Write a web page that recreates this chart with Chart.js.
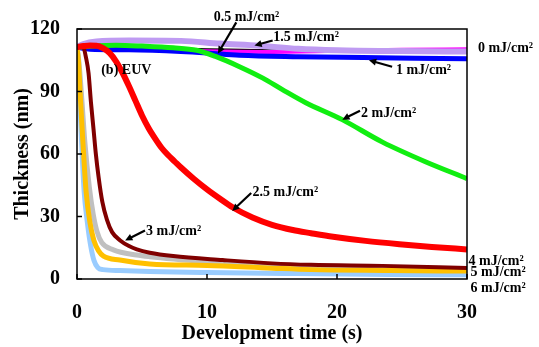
<!DOCTYPE html>
<html>
<head>
<meta charset="utf-8">
<script src="https://cdn.jsdelivr.net/npm/chart.js@4.4.0/dist/chart.umd.min.js"></script>
<style>
    body { margin: 0; background: #fff; }
</style>
</head>
<body>
<canvas id="chart1" width="539" height="347"></canvas>
<script>
// development time (s) and film thickness (nm) for each EUV dose
const time_0 = [0, 1, 5, 10, 15, 20, 25, 30];
const thick_0 = [111.2, 110.5, 110, 109.3, 109, 109.5, 110, 110.3];

const time_05 = [0, 1, 5, 10, 15, 20, 25, 30];
const thick_05 = [111.2, 111, 110.8, 110.3, 109.8, 109.6, 109.8, 110];

const time_1 = [0, 1, 4, 8, 10, 12.5, 17, 22, 26, 30];
const thick_1 = [111.2, 110.3, 110, 109.2, 108.5, 107.4, 106.7, 106.3, 106, 105.7];

const time_15 = [0, 0.5, 1.5, 4, 8, 11, 14, 17, 20, 25, 30];
const thick_15 = [111.3, 112.8, 114, 114.5, 114.3, 113, 112, 110.5, 109.8, 109.4, 109.2];

const time_2 = [0, 0.5, 1.5, 3, 5, 7.4, 9.2, 10.7, 12.5, 14.3, 15.8, 17.6, 20.4, 23.5, 26.8, 30];
const thick_2 = [111.2, 111.5, 112, 112.2, 111.8, 111, 109.8, 106.7, 101.9, 96.4, 90.9, 84.6, 76.5, 65.7, 56.3, 48.2];

const time_25 = [0, 0.5, 1, 1.5, 2, 2.5, 3, 3.5, 4, 4.5, 5, 5.5, 6, 6.5, 7, 7.5, 8, 9, 10, 11, 12, 13.5, 15, 16.6, 18, 19.7, 22.2, 24.8, 27.3, 30];
const thick_25 = [111.3, 111.8, 112.1, 112, 110.8, 108.5, 104.5, 99, 92.5, 85.5, 78.5, 72.5, 67.5, 63, 59.5, 56.5, 53.5, 48, 43, 38.5, 34.3, 29.5, 26, 23.5, 22, 20.3, 18.3, 16.7, 15.4, 14.2];

const time_3 = [0, 0.3, 0.5, 0.7, 0.89, 1.07, 1.27, 1.45, 1.66, 1.95, 2.3, 2.7, 3.32, 4, 4.6, 5.6, 7.4, 11.2, 15, 18, 23.5, 30];
const thick_3 = [111.2, 111.5, 111, 106, 98.8, 85, 72, 60, 49, 37, 28.5, 22.5, 18.5, 15.8, 14.2, 12.6, 11, 9.1, 7.5, 6.8, 6.3, 5.3];

const time_4 = [0, 0.15, 0.35, 0.6, 0.95, 1.25, 1.53, 1.91, 2.8, 4.6, 5.6, 10, 15, 20, 30];
const thick_4 = [111.2, 104, 88, 66, 44, 31, 23, 17.5, 14, 11.5, 10.7, 8.3, 6.2, 5.4, 4.6];

const time_5 = [0, 0.12, 0.25, 0.45, 0.7, 1.0, 1.3, 1.66, 2.04, 3.3, 5.6, 10, 15, 18, 24, 30];
const thick_5 = [111.2, 104, 88, 66, 42, 27, 18.5, 13.5, 11, 9.1, 7.2, 6.5, 5.2, 4.5, 4.1, 3.8];

const time_6 = [0, 0.1, 0.2, 0.35, 0.55, 0.8, 1.05, 1.3, 1.6, 2, 3.3, 5.6, 10, 17, 24, 30];
const thick_6 = [111.2, 104, 88, 66, 42, 27, 16, 9, 5.5, 4.5, 4.1, 3.6, 3.1, 2.6, 2.2, 2.0];

const xTicks = [0, 10, 20, 30];
const yTicks = [0, 30, 60, 90, 120];

function pts(ts, vs) {
    return ts.map(function (t, i) { return { x: t, y: vs[i] }; });
}

// dataset list: lower "order" is painted on top
const series = [
    { label: '2.5 mJ/cm²', data: pts(time_25, thick_25), color: '#ff0000', width: 6, order: 1 },
    { label: '3 mJ/cm²', data: pts(time_3, thick_3), color: '#800000', width: 4, order: 2 },
    { label: '2 mJ/cm²', data: pts(time_2, thick_2), color: '#11ee11', width: 5, order: 3 },
    { label: '5 mJ/cm²', data: pts(time_5, thick_5), color: '#ffc000', width: 5, order: 4 },
    { label: '6 mJ/cm²', data: pts(time_6, thick_6), color: '#99ccff', width: 5, order: 5 },
    { label: '4 mJ/cm²', data: pts(time_4, thick_4), color: '#c0c0c0', width: 5, order: 6 },
    { label: '1.5 mJ/cm²', data: pts(time_15, thick_15), color: '#bf9bf2', width: 6, order: 7 },
    { label: '1 mJ/cm²', data: pts(time_1, thick_1), color: '#0000ff', width: 5, order: 8 },
    { label: '0 mJ/cm²', data: pts(time_0, thick_0), color: '#ff00ff', width: 4, order: 9 },
    { label: '0.5 mJ/cm²', data: pts(time_05, thick_05), color: '#000000', width: 2, order: 10 }
];

// text labels [text, time, thickness] and arrows [fromT, fromTh, toT, toTh]
const notes = [
    ['0.5 mJ/cm²', 10.51, 125.7],
    ['1.5 mJ/cm²', 15.1, 115.8],
    ['0 mJ/cm²', 30.84, 110.9],
    ['1 mJ/cm²', 24.53, 100.3],
    ['2 mJ/cm²', 21.85, 79.4],
    ['2.5 mJ/cm²', 13.5, 41.7],
    ['3 mJ/cm²', 5.31, 22.8],
    ['4 mJ/cm²', 30.12, 8.6],
    ['5 mJ/cm²', 30.27, 3.0],
    ['6 mJ/cm²', 30.27, -4.6]
];
const arrows = [
    [12.25, 123.2, 10.84, 108.2],
    [15.05, 114.5, 13.65, 112.1],
    [24.24, 101.9, 22.46, 105.0],
    [21.77, 80.8, 20.41, 76.5],
    [13.4, 41.3, 11.94, 32.7],
    [5.23, 23.3, 3.7, 18.5]
];

function drawArrow(ctx, x1, y1, x2, y2) {
    const a = Math.atan2(y2 - y1, x2 - x1);
    const head = 8;
    ctx.beginPath();
    ctx.moveTo(x1, y1);
    ctx.lineTo(x2 - head * 0.7 * Math.cos(a), y2 - head * 0.7 * Math.sin(a));
    ctx.stroke();
    ctx.beginPath();
    ctx.moveTo(x2, y2);
    ctx.lineTo(x2 - head * Math.cos(a - 0.45), y2 - head * Math.sin(a - 0.45));
    ctx.lineTo(x2 - head * Math.cos(a + 0.45), y2 - head * Math.sin(a + 0.45));
    ctx.closePath();
    ctx.fill();
}

const framePlugin = {
    id: 'frame',
    afterDatasetsDraw: function (chart) {
        const ctx = chart.ctx;
        const area = chart.chartArea;
        const xs = chart.scales.x;
        const ys = chart.scales.y;
        ctx.save();
        ctx.strokeStyle = '#000';
        ctx.fillStyle = '#000';
        ctx.lineWidth = 1.5;
        ctx.strokeRect(area.left, area.top, area.right - area.left, area.bottom - area.top);

        // inward ticks
        yTicks.forEach(function (v) {
            const y = ys.getPixelForValue(v);
            ctx.beginPath();
            ctx.moveTo(area.left, y);
            ctx.lineTo(area.left + 5, y);
            ctx.stroke();
        });
        xTicks.forEach(function (v) {
            const x = xs.getPixelForValue(v);
            ctx.beginPath();
            ctx.moveTo(x, area.bottom);
            ctx.lineTo(x, area.bottom - 5);
            ctx.stroke();
        });

        // arrows
        ctx.lineWidth = 2.2;
        arrows.forEach(function (a) {
            drawArrow(ctx, xs.getPixelForValue(a[0]), ys.getPixelForValue(a[1]),
                xs.getPixelForValue(a[2]), ys.getPixelForValue(a[3]));
        });

        // labels
        ctx.font = 'bold 14px "Liberation Serif"';
        ctx.textAlign = 'left';
        ctx.textBaseline = 'middle';
        notes.forEach(function (n) {
            ctx.fillText(n[0], xs.getPixelForValue(n[1]), ys.getPixelForValue(n[2]));
        });
        ctx.fillText('(b) EUV', xs.getPixelForValue(1.86), ys.getPixelForValue(100.3));
        ctx.restore();
    }
};

const ctx = document.getElementById('chart1');
const myChart = new Chart(ctx, {
    type: 'line',
    data: {
        datasets: series.map(function (s) {
            return {
                label: s.label,
                data: s.data,
                borderColor: s.color,
                backgroundColor: s.color,
                borderWidth: s.width,
                pointRadius: 0,
                cubicInterpolationMode: 'monotone',
                order: s.order
            };
        })
    },
    options: {
        responsive: false,
        animation: false,
        devicePixelRatio: 1,
        layout: { padding: { top: 25, right: 72, left: 0, bottom: 0 } },
        plugins: {
            legend: { display: false },
            tooltip: { enabled: false }
        },
        scales: {
            x: {
                type: 'linear',
                min: 0,
                max: 30,
                afterFit: function (s) { s.height = 68; },
                grid: { display: false, drawTicks: false },
                border: { display: false },
                ticks: {
                    stepSize: 10,
                    padding: 22,
                    color: '#000',
                    font: { family: 'Liberation Serif', size: 20, weight: 'bold' }
                },
                title: {
                    display: true,
                    text: 'Development time (s)',
                    color: '#000',
                    padding: { top: 0, bottom: 1 },
                    font: { family: 'Liberation Serif', size: 20, weight: 'bold' }
                }
            },
            y: {
                min: 0,
                max: 120,
                afterFit: function (s) { s.width = 77; },
                grid: { display: false, drawTicks: false },
                border: { display: false },
                ticks: {
                    stepSize: 30,
                    padding: 17,
                    color: '#000',
                    font: { family: 'Liberation Serif', size: 20, weight: 'bold' }
                },
                title: {
                    display: true,
                    text: 'Thickness (nm)',
                    color: '#000',
                    padding: { top: 11, bottom: 0 },
                    font: { family: 'Liberation Serif', size: 20, weight: 'bold' }
                }
            }
        }
    },
    plugins: [framePlugin]
});
</script>
</body>
</html>
